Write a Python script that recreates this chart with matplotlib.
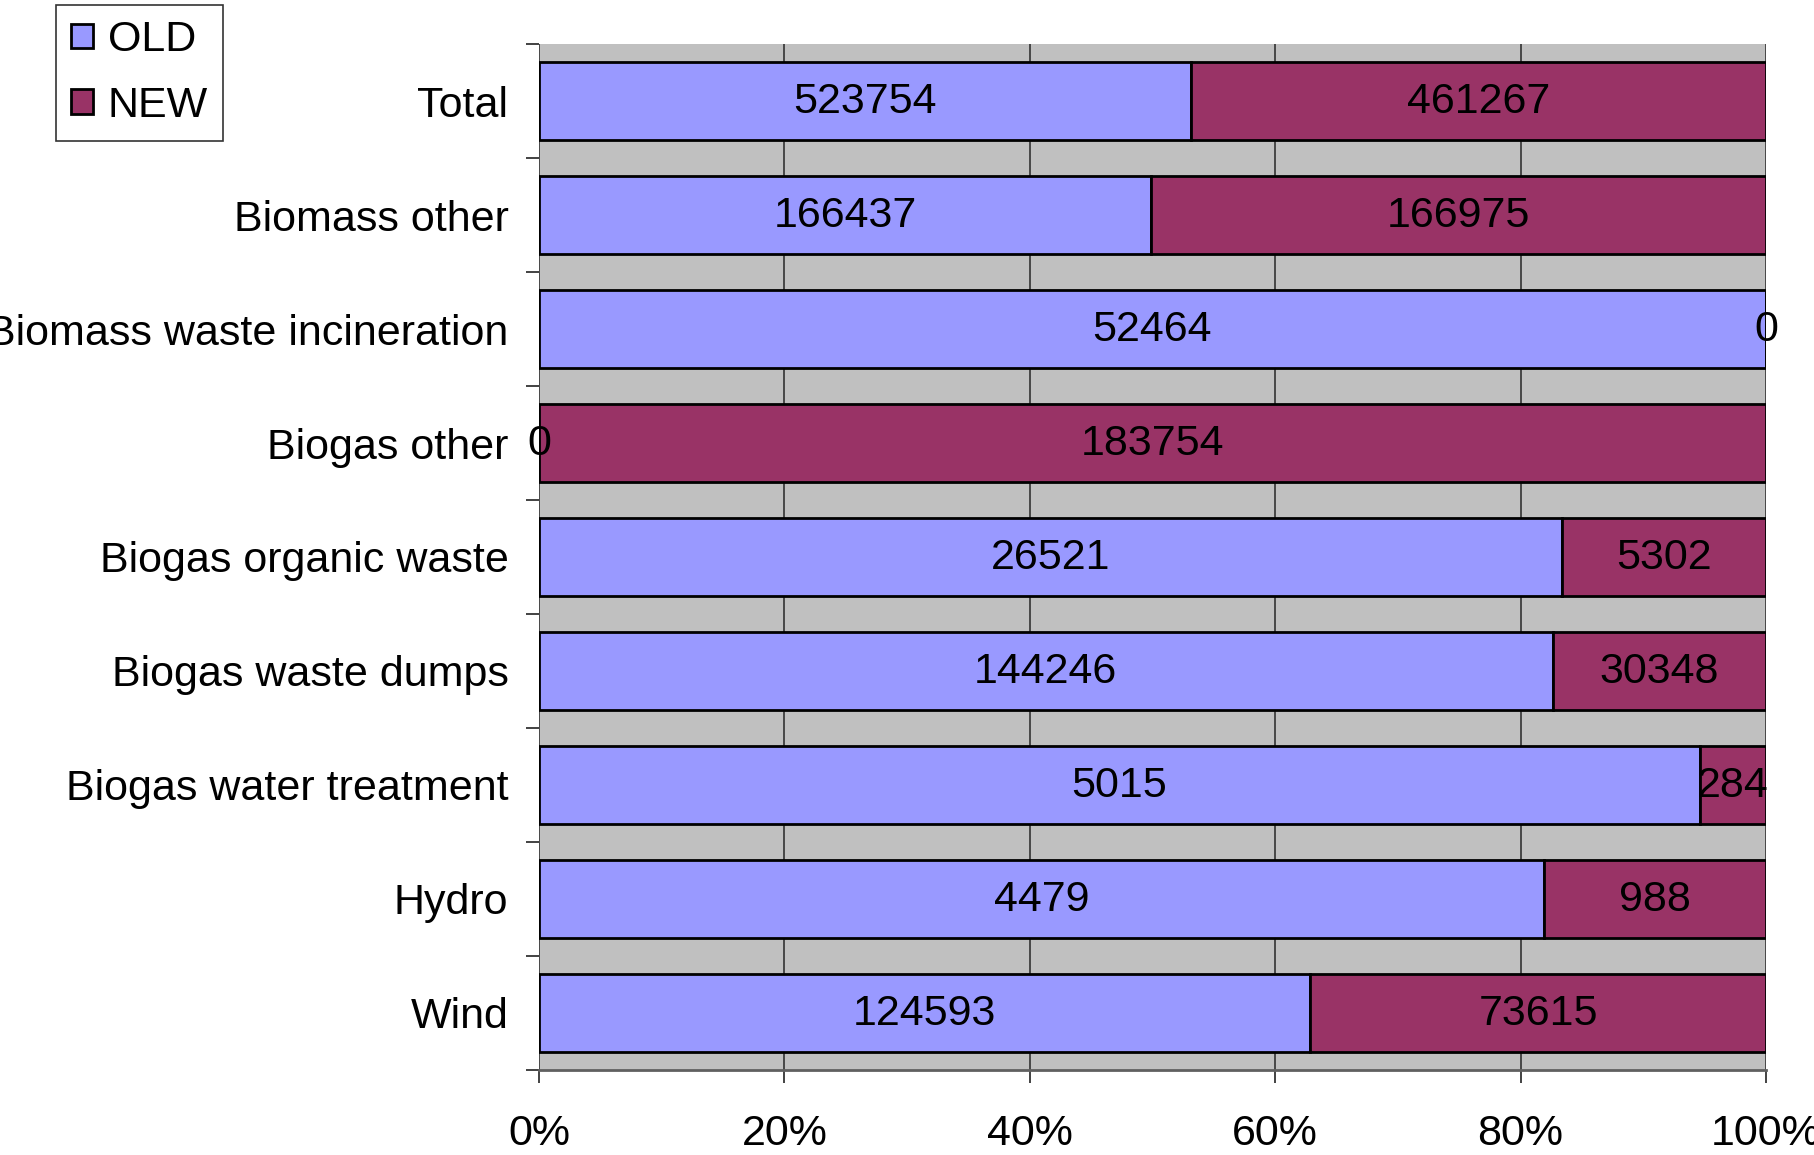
import numpy as np
import matplotlib.pyplot as plt

plt.rcParams["font.family"] = ["Liberation Sans", "DejaVu Sans"]

# 出力量（OLD / NEW）
categories = ["Total", "Biomass other", "Biomass waste incineration", "Biogas other",
              "Biogas organic waste", "Biogas waste dumps", "Biogas water treatment",
              "Hydro", "Wind"]
old_vals = [523754, 166437, 52464, 0, 26521, 144246, 5015, 4479, 124593]
new_vals = [461267, 166975, 0, 183754, 5302, 30348, 284, 988, 73615]
xtick_labels = ["0%", "20%", "40%", "60%", "80%", "100%"]

OLD_COLOR = "#9999FF"
NEW_COLOR = "#993366"
FS = 31

old = np.array(old_vals, dtype=float)
new = np.array(new_vals, dtype=float)
total = old + new
old_share = old / total
new_share = new / total

fig = plt.figure(figsize=(18.14, 11.55), dpi=100)
ax = fig.add_axes([0.2971, 0.0736, 0.6764, 0.8883])
ax.set_facecolor("#C0C0C0")

y = np.arange(len(categories))
h = 0.68
ax.barh(y, old_share, height=h, color=OLD_COLOR, edgecolor="black",
        linewidth=2, label="OLD", zorder=3)
ax.barh(y, new_share, left=old_share, height=h, color=NEW_COLOR,
        edgecolor="black", linewidth=2, label="NEW", zorder=3)

# 各区間の中央に実数値
for i in range(len(categories)):
    ax.annotate(str(old_vals[i]), (old_share[i] / 2, y[i]), xytext=(0, -1),
                textcoords="offset points", ha="center", va="center",
                fontsize=FS, zorder=4)
    ax.annotate(str(new_vals[i]), (old_share[i] + new_share[i] / 2, y[i]),
                xytext=(0, -1), textcoords="offset points", ha="center",
                va="center", fontsize=FS, zorder=4)

ax.set_xlim(0, 1)
ax.set_ylim(len(categories) - 0.5, -0.5)

# 目盛り
ax.set_xticks(np.linspace(0, 1, 6))
ax.set_xticklabels(xtick_labels, fontsize=FS)
ax.tick_params(axis="x", direction="out", length=9.5, width=1.2, color="#222222", pad=22)
ax.set_yticks(y)
ax.set_yticklabels(categories, fontsize=FS)
ax.tick_params(axis="y", which="major", length=0, pad=22)
ax.set_yticks(np.arange(len(categories) + 1) - 0.5, minor=True)
ax.tick_params(axis="y", which="minor", direction="out", length=9.5, width=1.2,
               color="#222222")

ax.grid(axis="x", color="#333333", linewidth=1.2)
ax.set_axisbelow(True)

for side in ["top", "right", "left"]:
    ax.spines[side].set_visible(False)
ax.spines["bottom"].set_color("#606060")
ax.spines["bottom"].set_linewidth(2)

leg = fig.legend(loc="upper left", bbox_to_anchor=(56 / 1814, 1 - 5 / 1155),
                 fontsize=FS, frameon=True, fancybox=False, edgecolor="black",
                 handlelength=0.5, handleheight=0.5, handletextpad=0.35,
                 borderpad=0.35, labelspacing=0.6, borderaxespad=0)
leg.get_frame().set_linewidth(1.2)

fig.savefig("out.png", dpi=100)
